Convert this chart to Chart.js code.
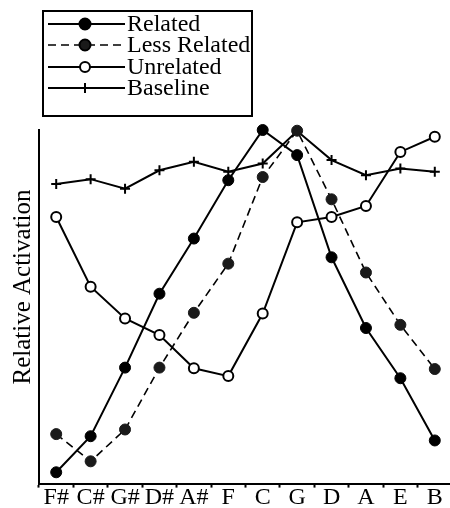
<!DOCTYPE html>
<html>
<head>
<meta charset="utf-8">
<script src="https://cdn.jsdelivr.net/npm/chart.js@4"></script>
<style>
  html, body { margin: 0; background: #fff; overflow: hidden; }
  #frame { width: 450px; height: 508px; overflow: hidden; }
  /* a bit wider than the frame: chart.js keeps room for the last marker, the axis must reach the edge */
  #wrap { width: 459px; height: 508px; position: relative; }
</style>
</head>
<body>
<div id="frame"><div id="wrap"><canvas id="keyChart"></canvas></div></div>
<script>
// keys along the circle of fifths
const keys = ['F#', 'C#', 'G#', 'D#', 'A#', 'F', 'C', 'G', 'D', 'A', 'E', 'B'];

// relative activation (0 = bottom of axis, 100 = top)
const related     = [3.2, 13.4, 32.8, 53.7, 69.3, 85.8, 100, 92.9, 64.0, 44.0, 29.8, 12.2];
const lessRelated = [14.0, 6.3, 15.3, 32.8, 48.3, 62.2, 86.7, 99.8, 80.4, 59.7, 44.9, 32.4];
const unrelated   = [75.4, 55.7, 46.7, 42.0, 32.6, 30.4, 48.1, 73.9, 75.4, 78.5, 93.8, 98.1];
const baseline    = [84.7, 86.1, 83.4, 88.6, 91.0, 88.2, 90.5, 99.7, 91.5, 87.2, 89.1, 88.2];

const yTitle = 'Relative Activation';
const serif = "'Liberation Serif', 'DejaVu Serif', serif";

// boxed legend + y title drawn by hand (chart.js legend can't do line + marker samples,
// and the axis title sits higher than chart.js would centre it)
const boxLegend = {
    id: 'boxLegend',
    afterDraw(chart) {
        const ctx = chart.ctx;
        ctx.save();
        ctx.strokeStyle = '#000';
        ctx.lineWidth = 2;
        ctx.strokeRect(43, 11, 209, 105);
        const rows = [24, 45, 67, 88];
        chart.data.datasets.forEach(function (ds, i) {
            let y = rows[i];
            ctx.beginPath();
            ctx.setLineDash(ds.borderDash || []);
            ctx.lineWidth = ds.borderWidth;
            ctx.strokeStyle = '#000';
            ctx.moveTo(48, y);
            ctx.lineTo(125, y);
            ctx.stroke();
            ctx.setLineDash([]);
            // marker
            ctx.lineWidth = 2;
            if (ds.pointStyle == 'cross') {
                ctx.beginPath();
                ctx.moveTo(85, y - 5);
                ctx.lineTo(85, y + 5);
                ctx.stroke();
            } else {
                ctx.beginPath();
                ctx.arc(85, y, ds.pointRadius, 0, Math.PI * 2);
                ctx.fillStyle = ds.pointBackgroundColor;
                ctx.fill();
                ctx.stroke();
            }
            ctx.fillStyle = '#000';
            ctx.font = '24px ' + serif;
            ctx.textBaseline = 'middle';
            ctx.textAlign = 'left';
            ctx.fillText(ds.label, 127, y + 1);
        });
        // rotated y axis title
        ctx.translate(30, 287);
        ctx.rotate(-Math.PI / 2);
        ctx.font = '25px ' + serif;
        ctx.textAlign = 'center';
        ctx.textBaseline = 'alphabetic';
        ctx.fillText(yTitle, 0, 0);
        ctx.restore();
    }
};

const ch = document.getElementById('keyChart');

keyChart = new Chart(ch, {
    type: 'line',
    data: {
        labels: keys,
        datasets: [{
            label: 'Related',
            data: related,
            borderColor: '#000',
            borderWidth: 2,
            pointStyle: 'circle',
            pointRadius: 5.5,
            pointBackgroundColor: '#000',
            pointBorderColor: '#000',
            pointBorderWidth: 1,
            tension: 0,
            clip: false
        }, {
            label: 'Less Related',
            data: lessRelated,
            borderColor: '#000',
            borderWidth: 1.6,
            borderDash: [8, 5],
            pointStyle: 'circle',
            pointRadius: 5.5,
            pointBackgroundColor: '#1a1a1a',
            pointBorderColor: '#1a1a1a',
            pointBorderWidth: 1,
            tension: 0,
            clip: false
        }, {
            label: 'Unrelated',
            data: unrelated,
            borderColor: '#000',
            borderWidth: 2,
            pointStyle: 'circle',
            pointRadius: 5,
            pointBackgroundColor: '#fff',
            pointBorderColor: '#000',
            pointBorderWidth: 2,
            tension: 0,
            clip: false
        }, {
            label: 'Baseline',
            data: baseline,
            borderColor: '#000',
            borderWidth: 2,
            pointStyle: 'cross',
            pointRadius: 5,
            pointBorderColor: '#000',
            pointBorderWidth: 2,
            tension: 0,
            clip: false
        }]
    },
    options: {
        responsive: true,
        maintainAspectRatio: false,
        animation: false,
        layout: { padding: { top: 130, left: 39, right: 0, bottom: 0 } },
        plugins: {
            legend: { display: false },
            tooltip: { enabled: false }
        },
        scales: {
            x: {
                offset: true,
                border: { display: true, color: '#000', width: 2 },
                grid: { display: true, offset: true, drawOnChartArea: false, drawTicks: true, tickLength: 4, tickWidth: 2, tickColor: '#000' },
                ticks: { color: '#000', padding: 0, maxRotation: 0, autoSkip: false, font: { family: serif, size: 24, lineHeight: 0.85 } },
                afterFit: function (scale) {
                    scale.paddingLeft = 0;
                    scale.paddingRight = 0;
                }
            },
            y: {
                min: 0,
                max: 100,
                border: { display: true, color: '#000', width: 2 },
                grid: { display: false, drawTicks: false },
                ticks: { display: false }
            }
        }
    },
    plugins: [boxLegend]
});
</script>
</body>
</html>
